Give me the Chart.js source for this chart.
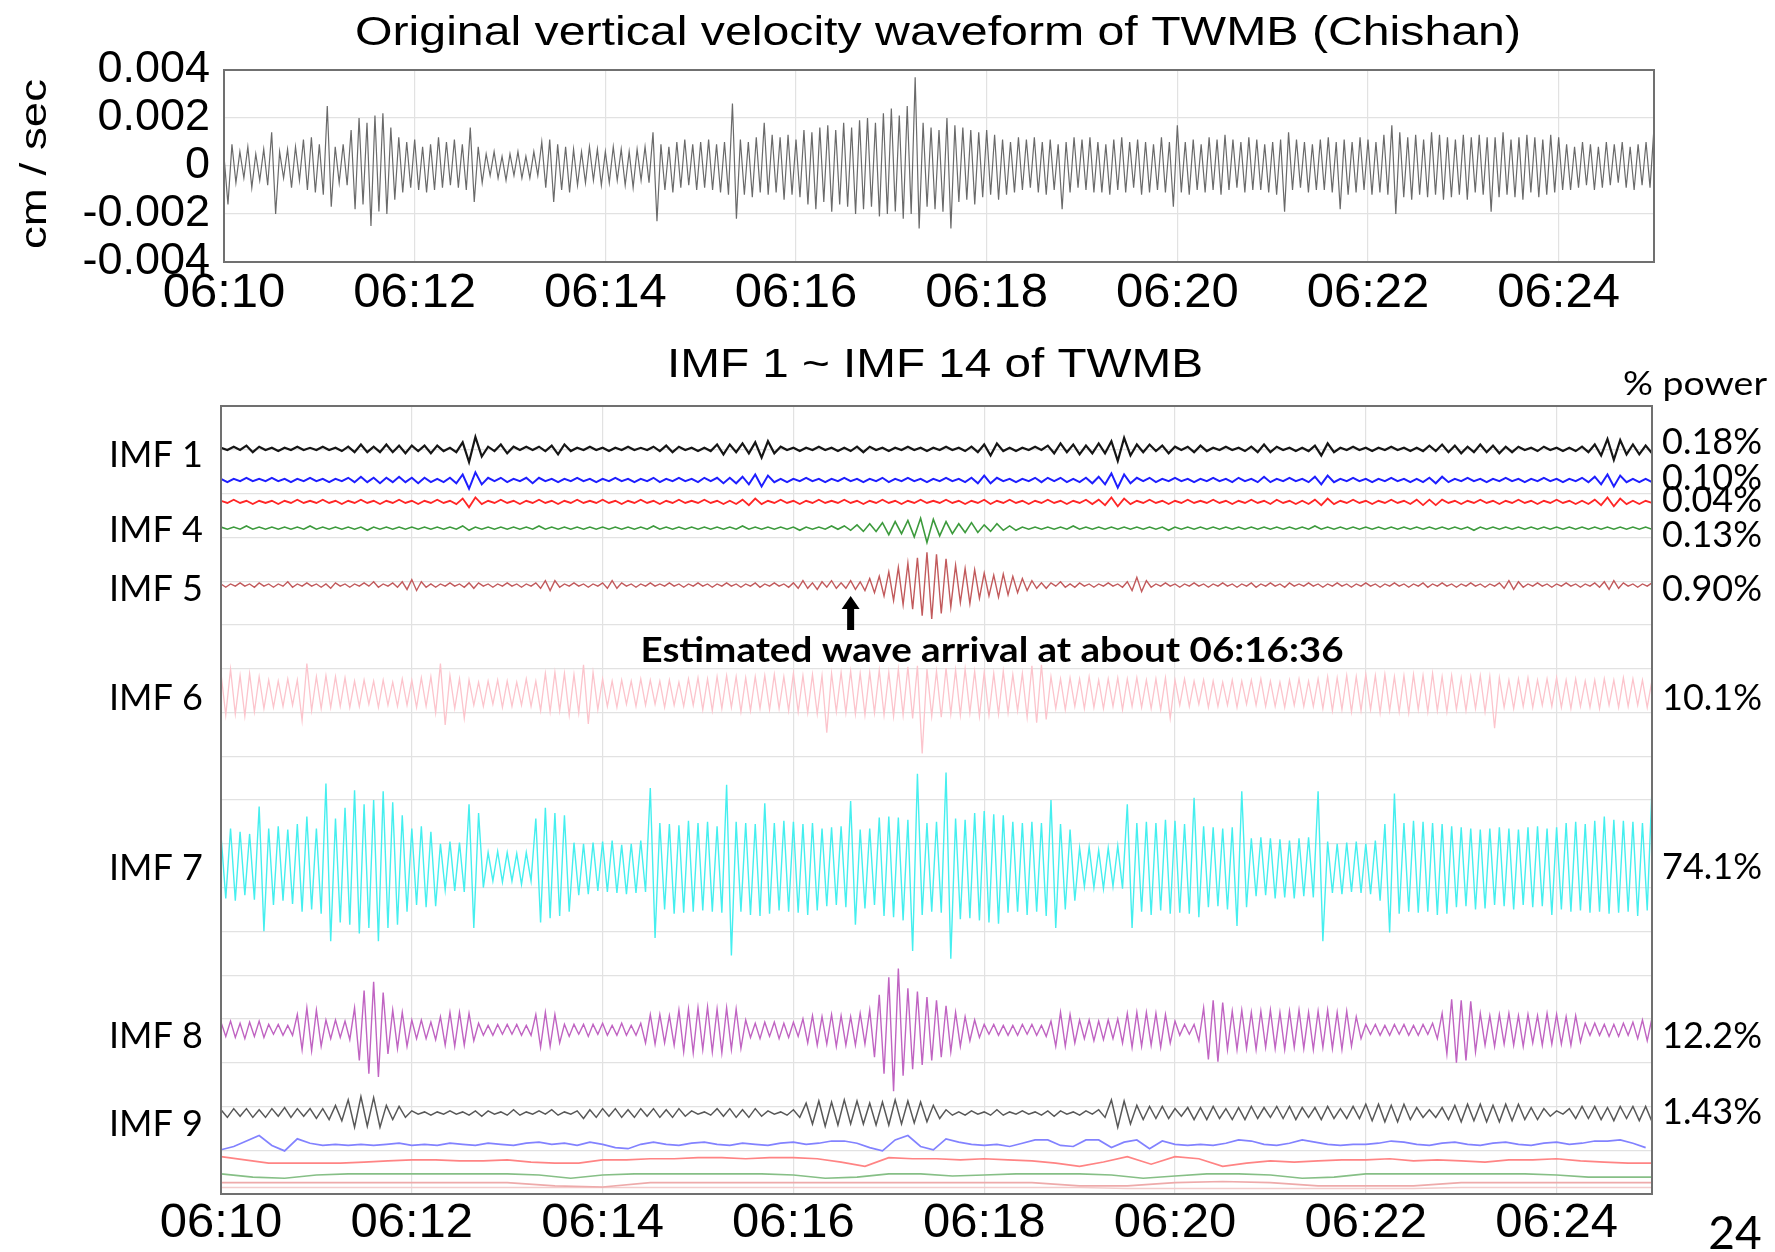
<!DOCTYPE html>
<html>
<head>
<meta charset="utf-8">
<title>TWMB vertical velocity and IMFs</title>
<script src="https://cdn.jsdelivr.net/npm/chart.js@4.4.1/dist/chart.umd.min.js"></script>
<style>
  html, body { margin: 0; padding: 0; background: #fff; }
  #wrap { position: relative; width: 1775px; height: 1252px; }
  #wrap canvas { position: absolute; left: 0; top: 0; }
</style>
</head>
<body>
<div id="wrap">
  <canvas id="waveChart" width="1775" height="1252"></canvas>
  <canvas id="imfChart" width="1775" height="1252"></canvas>
</div>
<script>
'use strict';

// time axis, seconds after 06:10:00
const timeTicks = ['06:10', '06:12', '06:14', '06:16', '06:18', '06:20', '06:22', '06:24'];
const waveTicks = ['-0.004', '-0.002', '0', '0.002', '0.004'];

// original vertical velocity, one value every 2.5 s, in 1e-4 cm/s
const waveStep = 2.5;
const waveUnit = 1e-4;
const wave = [
  4,-16,9,-7,6,-5,8,-9,5,-6,7,-8,14,-20,6,-5,7,-9,8,-6,
  11,-10,12,-11,9,-12,25,-17,8,-7,9,-8,15,-18,20,-16,18,-25,21,-19,
  22,-20,16,-14,12,-11,10,-9,11,-10,8,-11,9,-10,12,-9,10,-8,11,-9,
  9,-10,16,-15,8,-7,5,-4,6,-5,4,-6,5,-4,6,-5,4,-5,6,-4,
  10,-9,11,-15,9,-10,8,-11,7,-8,6,-7,8,-6,7,-8,6,-7,8,-6,
  7,-8,6,-9,7,-6,8,-7,14,-23,9,-10,8,-11,10,-9,11,-8,9,-10,
  10,-9,11,-10,9,-11,10,-12,26,-22,11,-12,10,-13,12,-11,18,-12,13,-11,
  12,-14,13,-12,11,-13,15,-16,14,-18,16,-15,17,-19,15,-16,18,-17,16,-20,
  19,-18,20,-17,18,-21,22,-20,24,-19,21,-22,25,-20,37,-26,18,-17,16,-18,
  15,-19,20,-26,17,-15,16,-14,15,-16,14,-13,15,-12,13,-14,11,-12,10,-11,
  12,-10,11,-9,12,-11,10,-12,11,-10,9,-18,10,-11,12,-9,11,-10,12,-11,
  10,-11,9,-12,11,-10,12,-11,10,-9,11,-12,10,-11,9,-10,12,-11,10,-17,
  17,-11,10,-12,11,-10,9,-11,12,-10,11,-12,13,-10,11,-9,10,-11,12,-10,
  11,-10,9,-11,10,-12,11,-19,14,-10,11,-9,10,-11,9,-10,11,-10,12,-11,
  10,-18,11,-12,10,-11,12,-10,11,-12,10,-11,13,-12,17,-20,14,-13,12,-14,
  13,-12,11,-13,14,-12,13,-14,12,-13,11,-12,13,-14,12,-11,13,-12,12,-19,
  12,-13,14,-12,11,-13,12,-14,13,-11,12,-13,11,-12,13,-11,12,-10,9,-10,
  8,-9,10,-8,9,-10,8,-9,10,-8,9,-7,10,-9,8,-10,9,-8,10,-9,
  16
];

// IMF 1 .. IMF 14, counts of 0.025 grid unit, sample step in seconds
const imfStep = [4, 4, 4, 4, 3, 3, 3, 3, 4, 8, 15, 20, 30, 30];
const imfUnit = 0.025;

const imf1 = [
  1,-1,2,-1,3,-3,2,-1,1,-2,1,-1,2,-1,1,-1,2,-1,1,-2,
  2,-3,4,-3,2,-3,4,-3,3,-4,3,-2,3,-4,3,-2,1,-3,6,-12,
  11,-7,2,-2,4,-4,2,-1,2,-1,2,-2,3,-5,4,-2,1,-1,2,-1,
  1,-2,1,-1,2,-1,1,-1,2,-2,3,-3,2,-1,1,-2,1,-2,4,-5,
  4,-3,5,-4,6,-8,7,-4,2,-1,1,-2,1,-1,2,-1,1,-2,1,-2,
  2,-3,2,-1,1,-2,1,-1,2,-1,1,-2,1,-1,2,-1,1,-2,2,-3,
  4,-6,5,-2,1,-2,1,-1,2,-1,3,-4,5,-3,4,-5,3,-4,5,-4,
  7,-11,10,-6,4,-3,4,-2,3,-4,2,-1,2,-3,3,-2,1,-1,2,-1,
  1,-2,2,-3,4,-3,2,-1,1,-2,1,-2,3,-6,5,-3,1,-1,2,-1,
  1,-2,1,-1,2,-1,1,-2,1,-2,3,-2,4,-3,3,-4,2,-3,4,-3,
  3,-4,2,-3,2,-1,1,-2,2,-1,1,-2,1,-2,2,-3,4,-6,9,-10,
  8,-5,4,-5,3,-4
];
const imf2 = [
  1,-2,1,-1,2,-1,1,-1,2,-1,1,-2,1,-1,2,-1,1,-2,1,-1,
  2,-2,3,-2,2,-3,2,-2,3,-2,2,-3,2,-2,1,-2,2,-3,5,-8,
  7,-4,2,-1,2,-2,1,-1,2,-3,2,-1,1,-2,1,-1,2,-1,1,-2,
  1,-1,2,-1,1,-2,1,-1,2,-2,1,-1,2,-1,1,-2,2,-1,2,-3,
  2,-3,3,-4,5,-6,4,-2,1,-2,1,-1,2,-1,1,-2,1,-1,2,-1,
  1,-2,1,-1,2,-2,1,-1,2,-1,1,-2,1,-1,2,-1,1,-2,2,-3,
  4,-3,2,-1,1,-2,1,-1,2,-2,2,-1,2,-2,1,-2,2,-3,3,-4,
  6,-7,5,-3,2,-1,2,-2,1,-1,2,-1,1,-2,1,-1,2,-1,1,-2,
  2,-1,1,-2,3,-2,1,-1,2,-1,1,-2,3,-4,4,-2,1,-1,2,-1,
  1,-2,1,-1,2,-1,1,-2,1,-2,2,-3,3,-2,1,-1,2,-1,1,-2,
  1,-1,2,-1,1,-2,1,-1,2,-1,1,-2,1,-1,2,-2,3,-4,5,-6,
  4,-2,1,-2,1,-2
];
const imf3 = [
  1,-1,2,-1,1,-2,1,-1,1,-2,1,-1,2,-1,1,-1,2,-1,1,-2,
  1,-1,2,-1,1,-2,1,-1,2,-1,1,-2,1,-1,2,-1,1,-2,3,-5,
  4,-2,1,-1,2,-1,1,-2,1,-1,2,-1,1,-2,1,-1,2,-1,1,-1,
  2,-1,1,-2,1,-1,2,-1,1,-2,1,-1,2,-1,1,-1,2,-1,1,-2,
  1,-2,2,-3,3,-2,1,-1,2,-1,1,-2,1,-1,2,-1,1,-1,2,-1,
  1,-2,1,-1,2,-1,1,-2,1,-1,2,-1,1,-1,2,-1,1,-2,1,-1,
  2,-2,1,-1,2,-1,1,-2,1,-1,2,-1,1,-2,1,-1,2,-2,2,-3,
  4,-4,3,-2,1,-1,2,-1,1,-2,1,-1,2,-1,1,-1,2,-1,1,-2,
  1,-1,2,-1,1,-2,2,-1,1,-2,1,-2,2,-3,3,-2,1,-1,2,-1,
  1,-2,1,-1,2,-1,1,-2,2,-3,2,-3,2,-1,1,-2,1,-1,2,-1,
  1,-2,1,-1,2,-1,1,-2,1,-1,2,-1,1,-2,1,-2,2,-3,4,-4,
  3,-2,1,-2,1,-1
];
const imf4 = [
  1,-1,1,-1,2,-1,1,-1,1,-1,1,-1,1,-1,2,-1,1,-1,1,-1,
  1,-1,1,-2,1,-1,1,-1,1,-1,1,-1,1,-1,1,-1,1,-1,2,-2,
  1,-1,1,-1,1,-1,1,-1,1,-1,2,-1,1,-1,1,-1,1,-1,1,-1,
  1,-1,1,-1,1,-1,1,-1,2,-1,1,-1,1,-1,1,-1,1,-1,1,-1,
  1,-1,2,-1,1,-1,1,-1,1,-1,1,-2,1,-1,1,-1,2,-1,2,-2,
  3,-3,4,-3,5,-6,6,-5,7,-8,9,-13,8,-7,6,-5,4,-4,5,-4,
  3,-3,4,-2,2,-2,1,-1,1,-1,1,-1,1,-1,2,-1,1,-1,1,-1,
  1,-1,1,-1,1,-1,1,-1,1,-2,1,-1,1,-1,1,-1,1,-1,1,-1,
  1,-1,1,-1,1,-1,1,-1,1,-1,1,-1,2,-1,1,-1,1,-1,1,-1,
  1,-1,1,-1,1,-1,1,-1,1,-1,1,-1,1,-1,1,-1,1,-2,1,-1,
  1,-1,1,-1,1,-1,1,-1,1,-1,1,-1,1,-1,1,-1,1,-1,1,-1,
  1,-1,1,-1,1,-1
];
const imf5 = [
  1,-2,1,-1,2,-1,1,-2,2,-1,1,-2,1,-1,3,-2,1,-1,2,-1,
  1,-2,1,-3,2,-1,1,-2,1,-1,2,-1,3,-2,1,-1,2,-2,3,-4,
  5,-5,3,-2,1,-2,1,-1,2,-1,1,-2,2,-3,2,-1,1,-2,1,-1,
  2,-1,1,-2,1,-1,2,-3,4,-5,4,-2,1,-1,2,-1,1,-2,1,-1,
  2,-3,4,-3,2,-1,1,-2,1,-1,2,-1,1,-1,2,-1,1,-2,1,-1,
  2,-1,1,-2,1,-1,2,-1,1,-2,1,-1,2,-2,1,-1,2,-1,1,-2,
  2,-3,4,-3,2,-4,3,-2,4,-3,2,-3,4,-4,3,-5,6,-7,8,-10,
  12,-14,16,-18,20,-22,25,-28,30,-31,28,-26,24,-20,18,-16,15,-17,14,-12,
  11,-10,9,-11,10,-9,8,-7,6,-5,4,-3,2,-3,2,-1,3,-2,1,-2,
  2,-1,1,-2,1,-1,2,-1,1,-2,3,-5,7,-6,4,-2,1,-1,2,-1,
  1,-2,1,-1,2,-1,1,-2,1,-1,2,-1,1,-2,1,-1,2,-2,1,-1,
  2,-1,1,-2,2,-1,1,-1,2,-1,1,-2,1,-1,2,-1,1,-2,1,-1,
  2,-1,1,-2,1,-1,2,-1,1,-2,1,-1,2,-2,1,-1,2,-1,1,-2,
  1,-1,2,-1,1,-2,1,-1,2,-3,4,-4,3,-2,1,-1,2,-1,1,-2,
  1,-1,2,-1,1,-2,1,-1,2,-2,3,-4,4,-3,2,-1,1,-2,1,-1,
  2
];
const imf6 = [
  18,-20,22,-19,16,-21,18,-17,15,-14,12,-13,11,-12,13,-11,12,-25,27,-16,
  15,-14,16,-13,15,-12,14,-13,11,-12,12,-10,11,-13,12,-11,10,-12,13,-11,
  12,-13,14,-12,15,-18,27,-29,16,-14,13,-23,12,-11,10,-12,11,-10,12,-13,
  11,-12,10,-11,13,-12,11,-16,18,-17,19,-16,18,-20,17,-18,26,-28,19,-15,
  13,-12,11,-13,12,-10,11,-12,13,-11,12,-10,11,-13,12,-11,10,-12,13,-11,
  14,-15,13,-16,15,-14,16,-13,15,-17,14,-16,15,-14,16,-15,17,-14,15,-16,
  18,-17,16,-18,17,-19,16,-36,18,-17,19,-18,20,-19,18,-20,19,-18,21,-20,
  19,-21,22,-20,24,-23,25,-55,22,-21,20,-22,23,-19,21,-20,22,-18,20,-21,
  19,-20,18,-19,20,-18,17,-16,18,-22,25,-27,26,-24,15,-14,13,-15,14,-12,
  13,-14,15,-13,12,-14,13,-12,14,-15,13,-12,14,-13,12,-14,13,-15,14,-23,
  12,-11,13,-12,11,-10,12,-13,11,-12,10,-11,12,-13,11,-10,12,-11,13,-12,
  11,-12,10,-13,12,-11,13,-12,11,-12,13,-14,15,-16,14,-15,16,-17,15,-16,
  17,-15,16,-18,17,-16,15,-17,16,-18,17,-15,16,-17,18,-16,15,-17,16,-15,
  14,-16,15,-14,16,-17,15,-32,14,-13,12,-14,13,-12,14,-13,12,-11,13,-12,
  14,-13,12,-14,13,-12,11,-13,12,-14,13,-11,12,-13,14,-12,13,-11,12,-13,
  12
];
const imf7 = [
  30,-28,36,-30,33,-25,31,-29,56,-58,36,-34,38,-30,35,-33,40,-40,47,-38,
  36,-42,77,-67,45,-50,55,-52,71,-60,58,-55,62,-67,70,-55,60,-52,48,-40,
  36,-34,38,-36,33,-35,22,-20,24,-21,23,-22,58,-55,50,-18,14,-12,15,-13,
  14,-12,13,-15,14,-12,45,-50,55,-46,50,-44,48,-40,23,-25,22,-24,23,-21,
  24,-22,25,-23,21,-24,22,-23,25,-22,73,-64,41,-38,40,-42,39,-41,43,-40,
  41,-39,42,-40,38,-41,76,-80,42,-40,41,-43,40,-44,59,-42,41,-39,43,-40,
  42,-41,40,-43,41,-39,36,-35,37,-34,38,-36,61,-52,35,-37,36,-34,46,-44,
  47,-45,46,-48,44,-76,86,-43,41,-40,42,-41,87,-83,45,-47,44,-46,50,-48,
  52,-50,49,-51,48,-41,42,-40,41,-43,42,-40,41,-44,62,-55,40,-38,35,-30,
  18,-17,19,-18,16,-19,18,-17,20,-19,58,-55,41,-40,42,-43,41,-39,44,-42,
  43,-41,40,-42,64,-45,38,-36,37,-35,36,-38,37,-53,70,-36,27,-26,28,-25,
  27,-28,26,-27,25,-28,27,-26,28,-27,70,-67,24,-23,22,-24,23,-22,24,-23,
  22,-24,25,-30,40,-59,68,-42,41,-40,43,-41,42,-40,41,-43,40,-42,38,-36,
  37,-35,36,-38,35,-37,36,-34,37,-35,36,-38,35,-34,37,-36,38,-35,36,-43,
  37,-38,41,-40,42,-39,40,-41,43,-40,47,-42,44,-41,43,-40,42,-44,41,-39,
  73
];
const imf8 = [
  7,-6,8,-7,6,-8,7,-6,8,-7,5,-4,5,-5,4,-5,14,-18,20,-19,
  18,-15,9,-8,9,-7,8,-9,20,-28,36,-40,44,-43,34,-22,18,-17,16,-15,
  9,-8,9,-8,7,-9,12,-14,16,-15,16,-14,15,-10,6,-5,4,-5,5,-4,
  5,-4,5,-5,4,-5,14,-16,16,-15,14,-12,5,-6,5,-4,5,-6,5,-4,
  6,-5,4,-5,6,-5,4,-5,6,-12,14,-13,14,-12,13,-14,18,-20,19,-21,
  20,-18,21,-20,19,-21,20,-18,19,-17,9,-7,6,-8,7,-6,7,-8,6,-7,
  7,-6,10,-12,13,-14,12,-13,14,-15,13,-14,12,-14,15,-13,18,-25,32,-40,
  48,-56,56,-42,38,-36,35,-32,30,-28,27,-25,22,-20,16,-15,12,-10,9,-7,
  5,-4,5,-5,4,-5,4,-5,5,-4,5,-5,4,-6,8,-15,16,-15,14,-12,
  9,-8,9,-10,8,-9,9,-8,10,-12,15,-16,16,-15,16,-14,15,-16,14,-12,
  8,-5,5,-4,5,-10,20,-27,27,-29,25,-18,17,-18,18,-17,16,-18,17,-16,
  18,-17,16,-18,17,-16,18,-17,16,-18,17,-16,18,-17,16,-18,17,-15,12,-8,
  5,-4,5,-5,4,-5,5,-4,5,-5,4,-5,5,-4,6,-8,15,-22,28,-30,
  27,-28,26,-20,15,-14,13,-15,14,-13,15,-14,13,-15,14,-12,13,-14,15,-13,
  14,-13,12,-14,13,-11,6,-5,6,-5,5,-6,5,-6,6,-5,7,-8,9,-10,
  11
];
const imf9 = [
  3,-4,4,-3,4,-4,3,-4,4,-3,5,-4,4,-3,4,-5,4,-6,7,-7,
  12,-13,15,-12,14,-13,7,-6,6,-4,2,-1,1,-2,1,-1,2,-1,1,-2,
  2,-3,2,-1,1,-2,3,-2,1,-1,2,-1,3,-2,1,-1,2,-5,3,-4,
  4,-3,4,-4,3,-4,4,-3,4,-4,3,-4,4,-3,2,-1,1,-2,4,-3,
  4,-4,3,-4,4,-3,2,-1,1,-2,3,-4,9,-10,11,-12,10,-11,12,-10,
  11,-10,9,-11,10,-11,12,-10,11,-9,10,-8,7,-5,3,-2,1,-2,2,-1,
  1,-2,3,-2,1,-1,2,-1,1,-2,2,-3,2,-1,1,-2,2,-1,3,-4,
  12,-13,11,-10,7,-6,6,-5,6,-5,4,-3,5,-6,5,-6,6,-5,4,-6,
  5,-6,6,-5,5,-4,6,-5,6,-6,5,-4,5,-6,6,-5,4,-5,6,-5,
  8,-7,8,-8,7,-8,8,-6,5,-4,3,-4,5,-6,7,-8,8,-7,8,-8,
  7,-8,8,-7,8,-6,5,-6,4,-3,2,-1,4,-5,6,-5,6,-6,5,-7,
  6,-5,6,-7,6,-8
];
const imf10 = [
  -6,-3,2,7,-2,-7,4,0,-2,-1,-2,-1,-2,-1,0,-2,-1,-2,0,-1,
  -2,0,-1,-2,0,1,-1,0,-2,1,-1,-4,-5,-1,1,-1,-2,0,1,-1,
  -2,0,-1,-2,0,1,-1,0,2,2,0,-4,-7,3,7,-3,-6,4,1,-1,
  -2,-1,-3,0,3,3,-2,-3,3,3,-4,1,3,-5,2,-1,-2,-1,-2,0,
  3,2,-1,-2,0,3,1,-1,-2,-1,-1,0,2,1,-1,-2,0,1,-1,-2,
  0,1,-1,-2,0,1,-1,0,2,2,3,0,-4
];
const imf11 = [
  3,0,-3,-3,-3,-3,-2,-1,0,0,-1,-1,0,-2,-3,-3,0,0,1,1,
  2,2,1,2,2,1,-2,-6,2,1,1,0,1,0,-1,-3,-6,-2,3,-4,
  3,1,-6,-3,-1,-2,-1,0,0,1,-1,0,-1,-2,0,0,1,-1,-2,-3,
  -3
];
const imf12 = [
  0,-3,-4,-1,0,0,0,0,0,0,-1,-4,-1,0,0,0,0,0,-1,-4,
  -3,0,0,-2,-1,0,0,0,-1,-4,-2,0,0,-1,-4,-3,0,0,0,0,
  0,0,-1,-3,-3,-3
];
const imf13 = [
  0,0,0,0,0,0,0,-3,-4,0,0,0,0,0,0,0,0,0,-3,-3,
  0,1,0,-3,-3,-3,0,0,0,0,0
];
const imf14 = [
  0,0,0,0,0,0,0,0,0,0,0,0,0,0,0,0,0,0,0,-1,
  -1,-1,-1,-1,-1,-1,0,0,0,0,0
];

const imfNames = ['IMF 1', '', '', 'IMF 4', 'IMF 5', 'IMF 6', 'IMF 7', 'IMF 8', 'IMF 9', '', '', '', '', ''];
const powerLabels = ['0.18%', '0.10%', '0.04%', '0.13%', '0.90%', '10.1%', '74.1%', '12.2%', '1.43%'];

// where each trace sits in the stacked panel (grid units from the bottom)
const imfBase = [17.02, 16.31, 15.81, 15.21, 13.91, 11.44, 7.45, 3.75, 1.85, 1.16, 0.78, 0.46, 0.26, 0.15];
const nameRows = [16.88, 0, 0, 15.17, 13.80, 11.33, 7.43, 3.60, 1.60];
const powerRows = [17.18, 16.35, 15.85, 15.05, 13.82, 11.33, 7.45, 3.61, 1.87];
const imfColors = ['#151515', '#1e1eff', '#ff2626', '#3c9a3c', '#c25a5c', '#fcc4cc', '#45efef',
  '#c064c2', '#585858', '#8282ff', '#ff8484', '#86bf86', '#eeaaaa', '#f2cccc'];
const imfWidths = [2.2, 2.0, 1.8, 1.6, 1.4, 1.3, 1.4, 1.4, 1.5, 1.7, 1.7, 1.6, 1.6, 1.6];

const imfData = [imf1, imf2, imf3, imf4, imf5, imf6, imf7, imf8, imf9, imf10, imf11, imf12, imf13, imf14];
const arrivalTime = 396; // 06:16:36

const sans = '"Liberation Sans", Arial, sans-serif';
const calib = 'Lato, "Open Sans", sans-serif';

function toPoints(values, step, base, unit) {
  return values.map((v, i) => ({ x: i * step, y: base + v * unit }));
}

// draws one line of text, squeezed or widened to a given width
function fitText(ctx, text, x, y, opt) {
  ctx.save();
  ctx.font = opt.font;
  ctx.fillStyle = '#000';
  ctx.textBaseline = 'middle';
  ctx.textAlign = opt.align || 'center';
  ctx.translate(x, y);
  if (opt.rotate) ctx.rotate(opt.rotate);
  if (opt.width) {
    ctx.scale(opt.width / ctx.measureText(text).width, 1);
  }
  ctx.fillText(text, 0, 0);
  ctx.restore();
}

// box round the plot area
const framePlugin = {
  id: 'frame',
  afterDatasetsDraw(chart) {
    const a = chart.chartArea;
    const ctx = chart.ctx;
    ctx.save();
    ctx.strokeStyle = '#707070';
    ctx.lineWidth = 2;
    ctx.strokeRect(a.left, a.top, a.right - a.left, a.bottom - a.top);
    ctx.restore();
  }
};

const waveText = {
  id: 'waveText',
  afterDraw(chart) {
    const ctx = chart.ctx;
    fitText(ctx, 'Original vertical velocity waveform of TWMB (Chishan)', 938, 34,
      { font: '40px ' + sans, width: 1166 });
    fitText(ctx, 'cm / sec', 36, 164, { font: '36px ' + sans, rotate: -Math.PI / 2, width: 170 });
  }
};

const imfText = {
  id: 'imfText',
  afterDraw(chart) {
    const ctx = chart.ctx;
    const y = chart.scales.y;
    const x = chart.scales.x;
    fitText(ctx, 'IMF 1 ~ IMF 14 of TWMB', 935, 366, { font: '40px ' + sans, width: 536 });
    fitText(ctx, '% power', 1767, 384, { font: '33px ' + calib, align: 'right', width: 144 });
    imfNames.forEach((name, i) => {
      if (name) fitText(ctx, name, 203, y.getPixelForValue(nameRows[i]), { font: '36px ' + calib, align: 'right' });
    });
    powerLabels.forEach((p, i) => {
      fitText(ctx, p, 1662, y.getPixelForValue(powerRows[i]), { font: '36px ' + calib, align: 'left' });
    });
    fitText(ctx, 'Estimated wave arrival at about 06:16:36', 992, 651,
      { font: 'bold 34px ' + calib, width: 703 });
    fitText(ctx, '24', 1735, 1234, { font: '46px ' + calib });

    // arrow pointing at the arrival on IMF 5
    const ax = x.getPixelForValue(arrivalTime);
    const tip = y.getPixelForValue(imfBase[4]) + 11;
    ctx.save();
    ctx.fillStyle = '#000';
    ctx.beginPath();
    ctx.moveTo(ax, tip);
    ctx.lineTo(ax + 9, tip + 13);
    ctx.lineTo(ax + 3.5, tip + 13);
    ctx.lineTo(ax + 3.5, tip + 34);
    ctx.lineTo(ax - 3.5, tip + 34);
    ctx.lineTo(ax - 3.5, tip + 13);
    ctx.lineTo(ax - 9, tip + 13);
    ctx.closePath();
    ctx.fill();
    ctx.restore();
  }
};

const gridColor = '#e2e2e2';

function timeAxis(height, pad) {
  return {
    type: 'linear',
    min: 0,
    max: 900,
    afterFit(scale) { scale.height = height; },
    ticks: {
      stepSize: 120,
      includeBounds: false,
      autoSkip: false,
      maxRotation: 0,
      padding: pad,
      color: '#000',
      font: { family: sans, size: 49 },
      callback: v => timeTicks[Math.round(v / 120)]
    },
    grid: { color: gridColor, lineWidth: 1.2, drawTicks: false },
    border: { display: false }
  };
}

new Chart(document.getElementById('waveChart'), {
  type: 'line',
  data: {
    datasets: [{
      data: toPoints(wave, waveStep, 0, waveUnit),
      borderColor: '#6a6a6a',
      borderWidth: 1.2,
      pointRadius: 0,
      tension: 0
    }]
  },
  options: {
    responsive: false,
    animation: false,
    events: [],
    layout: { padding: { top: 70, right: 121, bottom: 922, left: 0 } },
    plugins: { legend: { display: false }, tooltip: { enabled: false } },
    scales: {
      x: timeAxis(68, 2),
      y: {
        min: -0.004,
        max: 0.004,
        afterFit(scale) { scale.width = 224; },
        ticks: {
          stepSize: 0.002,
          autoSkip: false,
          padding: 14,
          color: '#000',
          font: { family: sans, size: 45 },
          callback: v => waveTicks[Math.round(v / 0.002) + 2]
        },
        grid: { color: gridColor, lineWidth: 1.2, drawTicks: false },
        border: { display: false }
      }
    }
  },
  plugins: [framePlugin, waveText]
});

new Chart(document.getElementById('imfChart'), {
  type: 'line',
  data: {
    datasets: imfData.map((vals, i) => ({
      data: toPoints(vals, imfStep[i], imfBase[i], imfUnit),
      borderColor: imfColors[i],
      borderWidth: imfWidths[i],
      pointRadius: 0,
      tension: 0
    }))
  },
  options: {
    responsive: false,
    animation: false,
    events: [],
    layout: { padding: { top: 406, right: 123, bottom: 0, left: 0 } },
    plugins: { legend: { display: false }, tooltip: { enabled: false } },
    scales: {
      x: timeAxis(58, 0),
      y: {
        min: 0,
        max: 18,
        afterFit(scale) { scale.width = 221; },
        ticks: { display: false, stepSize: 1 },
        grid: { color: gridColor, lineWidth: 1.2, drawTicks: false },
        border: { display: false }
      }
    }
  },
  plugins: [framePlugin, imfText]
});
</script>
</body>
</html>
